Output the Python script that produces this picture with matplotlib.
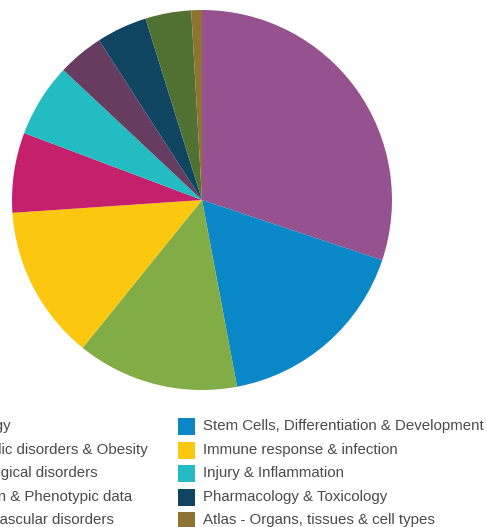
import matplotlib
matplotlib.use("Agg")
import matplotlib.pyplot as plt
from matplotlib.patches import Rectangle

# pie order (clockwise from 12 o'clock) == legend order (row-major, 2 columns)
categories = [
    "Oncology",
    "Stem Cells, Differentiation & Development",
    "Metabolic disorders & Obesity",
    "Immune response & infection",
    "Neurological disorders",
    "Injury & Inflammation",
    "Variation & Phenotypic data",
    "Pharmacology & Toxicology",
    "Cardiovascular disorders",
    "Atlas - Organs, tissues & cell types",
]
shares = [30.1, 16.9, 13.75, 13.1, 6.8, 6.25, 3.9, 4.3, 3.9, 0.9]
colors = ["#96528f", "#0a87c6", "#82ad46", "#fcc70f", "#c4206b",
          "#22bcc2", "#663c60", "#0f4560", "#507132", "#8e7332"]

W, H = 487, 527
fig = plt.figure(figsize=(W / 100, H / 100), dpi=100)
plt.rcParams['font.family'] = ['Liberation Sans', 'DejaVu Sans']

# pie centred at (202, 200) px, radius 190 px
cx, cy, r = 202, 200, 190
ax = fig.add_axes([(cx - r) / W, 1 - (cy + r) / H, 2 * r / W, 2 * r / H])
ax.pie(shares, colors=colors, startangle=90, counterclock=False,
       wedgeprops={"linewidth": 0})
ax.set_xlim(-1, 1)
ax.set_ylim(-1, 1)
ax.set_aspect("equal")
ax.axis("off")

# legend, two columns; left column runs off the left edge
fs = 10.8
renderer = fig.canvas.get_renderer()
probe = fig.text(0, 0, "Metabol", fontsize=fs)
cut_w = probe.get_window_extent(renderer).width
probe.remove()
left_text_x = -cut_w + 1          # picture starts at "ic disorders ..."

row_y = [426, 450, 473, 497, 520]
col_text_x = [left_text_x, 203]
box = 17
for i, (lab, col) in enumerate(zip(categories, colors)):
    row, c = i // 2, i % 2
    y = row_y[row]
    mx = col_text_x[c] - 25
    fig.patches.append(Rectangle((mx / W, 1 - (y + box / 2) / H),
                                 box / W, box / H, transform=fig.transFigure,
                                 facecolor=col, edgecolor="none"))
    fig.text(col_text_x[c] / W, 1 - y / H, lab, fontsize=fs, color="#4a4a4a",
             ha="left", va="center")

fig.savefig("out.png", dpi=100)
